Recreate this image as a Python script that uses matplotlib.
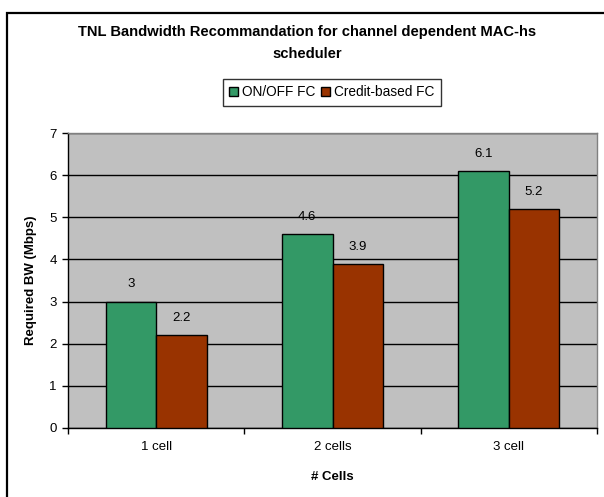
import matplotlib
matplotlib.use("Agg")
import matplotlib.pyplot as plt
from matplotlib.patches import Rectangle
import numpy as np

plt.rcParams['font.family'] = ['Liberation Sans', 'DejaVu Sans']

categories = ["1 cell", "2 cells", "3 cell"]
series_names = ["ON/OFF FC", "Credit-based FC"]
onoff = [3, 4.6, 6.1]
credit = [2.2, 3.9, 5.2]
value_labels_onoff = ["3", "4.6", "6.1"]
value_labels_credit = ["2.2", "3.9", "5.2"]
yticks = [0, 1, 2, 3, 4, 5, 6, 7]

W, H = 604, 497
fig = plt.figure(figsize=(W / 100, H / 100), dpi=100)

# outer frame (partially out of view)
fig.patches.append(Rectangle((7 / W, -0.1), 1.2, 1 - 12.5 / H + 0.1,
                             transform=fig.transFigure, fill=False,
                             edgecolor='black', linewidth=1.6, zorder=0))
# stray cut-off text at very top
fig.text(463 / W, 1 + 5.5 / H, "g", family=['Liberation Serif'], fontsize=16,
         ha='center', va='baseline')

ax = fig.add_axes([68 / W, (H - 428) / H, (597 - 68) / W, (428 - 133) / H])
ax.set_facecolor('#C0C0C0')

x = np.arange(len(categories))
bw = 0.286
b1 = ax.bar(x - bw / 2, onoff, bw, color='#339966', edgecolor='black',
            linewidth=1.0, label=series_names[0], zorder=3)
b2 = ax.bar(x + bw / 2, credit, bw, color='#993300', edgecolor='black',
            linewidth=1.0, label=series_names[1], zorder=3)

for xi, v, t in zip(x - bw / 2, onoff, value_labels_onoff):
    ax.annotate(t, (xi, v), xytext=(0, 8), textcoords='offset points',
                ha='center', va='bottom', fontsize=9.5)
for xi, v, t in zip(x + bw / 2, credit, value_labels_credit):
    ax.annotate(t, (xi, v), xytext=(0, 8), textcoords='offset points',
                ha='center', va='bottom', fontsize=9.5)

ax.set_xlim(-0.5, len(categories) - 0.5)
ax.set_ylim(0, 7)
ax.set_yticks(yticks)
ax.set_yticklabels([str(v) for v in yticks], fontsize=9.5)
ax.yaxis.grid(True, color='black', linewidth=1.0, zorder=1)
ax.set_axisbelow(True)

ax.set_xticks(x)
ax.set_xticklabels(categories, fontsize=9.5)
ax.tick_params(axis='x', length=0, pad=9)
ax.set_xticks(np.arange(-0.5, len(categories)), minor=True)
ax.tick_params(axis='x', which='minor', length=4, direction='out', width=1)
ax.tick_params(axis='y', length=4, direction='out', width=1, pad=4)

for s in ['top', 'right']:
    ax.spines[s].set_color('#808080')
    ax.spines[s].set_linewidth(1.0)
for s in ['left', 'bottom']:
    ax.spines[s].set_color('black')
    ax.spines[s].set_linewidth(1.0)

ax.set_ylabel("Required BW (Mbps)", fontsize=9.5, fontweight='bold', labelpad=9)
ax.set_xlabel("# Cells", fontsize=9.5, fontweight='bold', labelpad=13)

fig.text(307 / W, (H - 32) / H, "TNL Bandwidth Recommandation for channel dependent MAC-hs",
         ha='center', va='center', fontsize=10.6, fontweight='bold')
fig.text(307 / W, (H - 54) / H, "scheduler",
         ha='center', va='center', fontsize=10.6, fontweight='bold')

leg = fig.legend(handles=[b1, b2], labels=series_names, loc='center',
                 bbox_to_anchor=(332 / W, (H - 92.5) / H), ncol=2, fontsize=9.8,
                 frameon=True, fancybox=False, edgecolor='black',
                 handlelength=0.65, handleheight=0.65, handletextpad=0.3,
                 columnspacing=0.4, borderpad=0.45, borderaxespad=0)
leg.get_frame().set_linewidth(1.0)

fig.savefig("out.png", dpi=100)
